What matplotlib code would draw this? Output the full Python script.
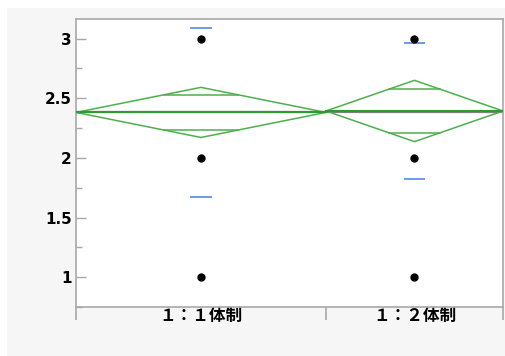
import numpy as np
import matplotlib.pyplot as plt
from matplotlib.patches import Rectangle

# データ
groups = ['１：１体制', '１：２体制']
group_n = [24, 17]            # 幅は標本サイズに比例
group_means = [2.381, 2.393]
ci_half = [0.210, 0.257]      # 平均ダイヤモンドの半幅 (95%CI)
sd_vals = [0.708, 0.567]      # 標準偏差線
points_1 = [3, 2, 1]
points_2 = [3, 2, 1]
grand_mean = 2.386
y_ticks = [1, 1.5, 2, 2.5, 3]
y_tick_labels = ['1', '1.5', '2', '2.5', '3']

GREEN = '#4cb04c'
DKGREEN = '#2f9a35'
BLUE = '#6b9be8'
AXGRAY = '#a8a8a8'

fig = plt.figure(figsize=(5.06, 3.56), dpi=100, facecolor='white')
fig.patches.append(Rectangle((7 / 506, 0), 1, 1 - 8 / 356, transform=fig.transFigure,
                             facecolor='#f6f6f6', edgecolor='none', zorder=-10))

ax = fig.add_axes([76 / 506, 1 - 307 / 356, (503 - 76) / 506, (307 - 19) / 356])
ax.set_facecolor('white')

edges = np.concatenate([[0], np.cumsum(group_n)])
centers = (edges[:-1] + edges[1:]) / 2
pts = [points_1, points_2]

# 全体平均線
ax.plot([edges[0], edges[-1]], [grand_mean, grand_mean], color='#808080', lw=1.6, zorder=2)

for i in range(len(groups)):
    x0, x1, xc = edges[i], edges[i + 1], centers[i]
    m, c, s = group_means[i], ci_half[i], sd_vals[i]
    half = (x1 - x0) / 2
    # ダイヤモンド
    ax.plot([x0, xc, x1, xc, x0], [m, m + c, m, m - c, m], color=GREEN, lw=1.1, zorder=3)
    # 平均線
    ax.plot([x0, x1], [m, m], color=DKGREEN, lw=1.5, zorder=3)
    # 重なりマーク
    k = np.sqrt(2) / 2
    dx = half * (1 - k)
    for sign in (1, -1):
        ax.plot([xc - dx, xc + dx], [m + sign * c * k] * 2, color=GREEN, lw=1.1, zorder=3)
    # 標準偏差線
    w = 0.95
    for yv in (m + s, m - s):
        ax.plot([xc - w, xc + w], [yv, yv], color=BLUE, lw=1.4, zorder=3)
    # データ点
    ax.plot([xc] * len(pts[i]), pts[i], 'o', color='black', ms=5, zorder=4)

ax.set_xlim(edges[0], edges[-1])
ax.set_ylim(0.839, 3.164)

for sp in ax.spines.values():
    sp.set_color(AXGRAY)
    sp.set_linewidth(1.2)

ax.set_yticks(y_ticks)
ax.set_yticklabels(y_tick_labels, fontsize=11, fontweight='bold', family=['DejaVu Sans'])
ax.set_yticks(np.arange(0.75, 3.2, 0.25), minor=True)
ax.tick_params(axis='y', which='major', direction='in', length=7, width=1,
               color=AXGRAY, pad=3)
ax.tick_params(axis='y', which='minor', direction='in', length=4, width=1, color=AXGRAY)

ax.set_xticks(edges)
ax.set_xticklabels([])
ax.set_xticks(centers, minor=True)
ax.set_xticklabels(groups, minor=True, fontsize=12, fontweight='bold',
                   family=['Noto Sans CJK JP', 'DejaVu Sans'])
ax.tick_params(axis='x', which='major', length=9, width=1.2, color=AXGRAY)
ax.tick_params(axis='x', which='minor', length=0, pad=0)

fig.savefig('out.png', dpi=100, facecolor=fig.get_facecolor())
